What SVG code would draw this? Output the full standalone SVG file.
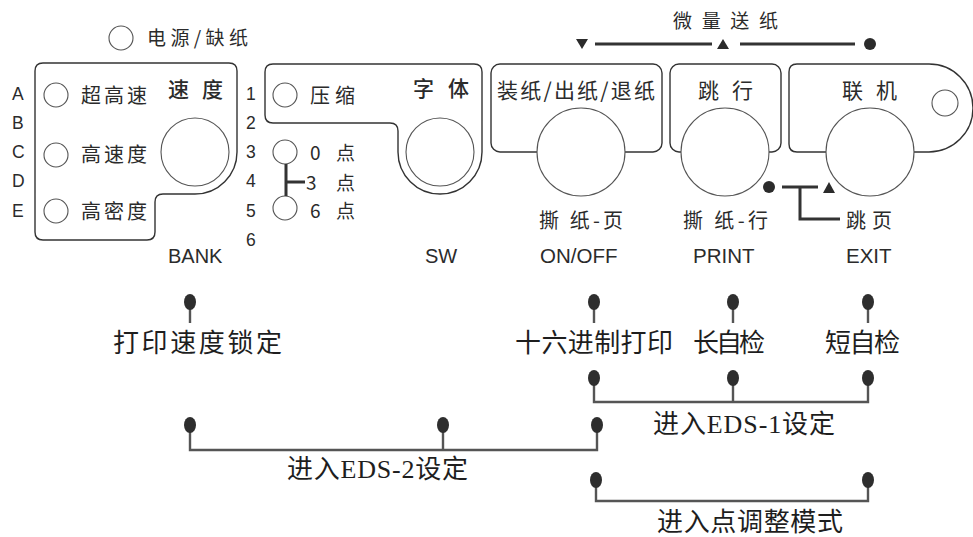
<svg xmlns="http://www.w3.org/2000/svg" width="973" height="537" viewBox="0 0 973 537">
<defs>
<style>
.panel{fill:#fff;stroke:#333;stroke-width:1.4}
.led{fill:#fff;stroke:#555;stroke-width:1.1}
.btn{fill:#fff;stroke:#555;stroke-width:1.1}
.cj{font-family:"Noto Sans CJK SC",sans-serif;fill:#2b2b2b}
.lat{font-family:"Liberation Sans",Arial,sans-serif;fill:#2b2b2b}
.big{font-family:"Liberation Serif","Noto Sans CJK SC",serif;fill:#1e1e1e;font-size:26px}
.thick{stroke:#333;stroke-width:3;fill:none}
.conn{stroke:#555;stroke-width:2.4;fill:none}
.pin{fill:#2e2e2e}
</style>
</defs>
<rect width="973" height="537" fill="#fff"/>

<g id="power">
<circle class="led" cx="121" cy="38" r="12"/>
<text class="cj" x="147" y="45" font-size="19" textLength="101">电源/缺纸</text>
</g>

<g id="speed-panel">
<path class="panel" d="M43,63 H229 Q237,63 237,71 V152 A42,42 0 0 1 195,194 H163 Q155,194 155,202 V232 Q155,240 147,240 H43 Q35,240 35,232 V71 Q35,63 43,63 Z"/>
<circle class="btn" cx="195" cy="152" r="34"/>
<circle class="led" cx="56" cy="95" r="12"/>
<circle class="led" cx="56" cy="155" r="12"/>
<circle class="led" cx="56" cy="211" r="12"/>
<text class="cj" x="81" y="103" font-size="20" textLength="66">超高速</text>
<text class="cj" x="81" y="162" font-size="20" textLength="66">高速度</text>
<text class="cj" x="81" y="219" font-size="20" textLength="66">高密度</text>
<text class="cj" x="168" y="97" font-size="21" font-weight="500" textLength="55">速 度</text>
</g>

<g id="letters" class="lat" font-size="17.5">
<text x="12" y="100">A</text>
<text x="12" y="129">B</text>
<text x="12" y="158">C</text>
<text x="12" y="187">D</text>
<text x="12" y="217">E</text>
</g>
<g id="numbers" class="lat" font-size="17.5">
<text x="246" y="100">1</text>
<text x="246" y="129">2</text>
<text x="246" y="158">3</text>
<text x="246" y="187">4</text>
<text x="246" y="217">5</text>
<text x="246" y="246">6</text>
</g>
<text class="lat" x="168" y="263" font-size="20">BANK</text>

<g id="font-panel">
<path class="panel" d="M273,64 H474 Q482,64 482,72 V152 A42,42 0 0 1 398,152 V131 Q398,123 390,123 H273 Q265,123 265,115 V72 Q265,64 273,64 Z"/>
<circle class="btn" cx="440" cy="152" r="34"/>
<circle class="led" cx="285" cy="95" r="12"/>
<text class="cj" x="310" y="103" font-size="20" textLength="45">压缩</text>
<text class="cj" x="413" y="96" font-size="21" font-weight="500" textLength="56">字 体</text>
</g>

<g id="dots-select">
<circle class="led" cx="285" cy="152" r="12"/>
<circle class="led" cx="285" cy="208" r="12"/>
<path class="thick" d="M286,164 V196 M286,182 H305"/>
<text class="cj" x="310" y="160" font-size="19" textLength="45">0 点</text>
<text class="cj" x="306" y="190" font-size="19" textLength="49">3 点</text>
<text class="cj" x="310" y="218" font-size="19" textLength="45">6 点</text>
</g>
<text class="lat" x="425" y="263" font-size="20">SW</text>

<g id="onoff">
<rect class="panel" x="491" y="64" width="171" height="88" rx="9"/>
<circle class="btn" cx="581" cy="152" r="44"/>
<text class="cj" x="497" y="98" font-size="21" textLength="158">装纸/出纸/退纸</text>
<text class="cj" x="539" y="228" font-size="20" textLength="84">撕 纸-页</text>
<text class="lat" x="540" y="263" font-size="20.5">ON/OFF</text>
</g>

<g id="print">
<rect class="panel" x="670" y="64" width="111" height="88" rx="9"/>
<circle class="btn" cx="725" cy="152" r="44"/>
<text class="cj" x="698" y="98" font-size="21" textLength="55">跳 行</text>
<text class="cj" x="683" y="228" font-size="20" textLength="85">撕 纸-行</text>
<text class="lat" x="693" y="263" font-size="20.5">PRINT</text>
</g>

<g id="online">
<path class="panel" d="M797,64 H929 A44,44 0 0 1 929,152 H797 Q789,152 789,144 V72 Q789,64 797,64 Z"/>
<circle class="led" cx="945" cy="103" r="13"/>
<circle class="btn" cx="870" cy="152" r="44"/>
<text class="cj" x="842" y="98" font-size="21" textLength="55">联 机</text>
<text class="cj" x="846" y="228" font-size="20" textLength="46">跳页</text>
<text class="lat" x="846" y="263" font-size="20.5">EXIT</text>
</g>

<g id="microfeed">
<text class="cj" x="673" y="28" font-size="19" textLength="105">微 量 送 纸</text>
<polygon fill="#2b2b2b" points="576,39 588,39 582,49"/>
<line class="thick" x1="595" y1="44" x2="712" y2="44" stroke-width="2.6"/>
<polygon fill="#2b2b2b" points="717,49 729,49 723,39"/>
<line class="thick" x1="740" y1="44" x2="855" y2="44" stroke-width="2.6"/>
<circle fill="#2b2b2b" cx="870" cy="44" r="6"/>
</g>

<g id="formfeed">
<circle fill="#2b2b2b" cx="769" cy="187" r="6"/>
<polygon fill="#2b2b2b" points="823,193 835,193 829,182"/>
<path class="thick" d="M782,187 H818 M800,187 V219 H840"/>
</g>

<g id="connectors">
<path class="conn" d="M190,302 V323 M594,302 V323 M733,302 V323 M868,302 V323"/>
<path class="conn" d="M594,378 V402 H868 V378 M733,378 V402"/>
<path class="conn" d="M190,425 V450 H597 V425 M443,425 V450"/>
<path class="conn" d="M596,480 V501 H868 V480"/>
</g>

<g id="pins">
<ellipse class="pin" cx="190" cy="302" rx="6" ry="8"/>
<ellipse class="pin" cx="594" cy="302" rx="6" ry="8"/>
<ellipse class="pin" cx="733" cy="302" rx="6" ry="8"/>
<ellipse class="pin" cx="868" cy="302" rx="6" ry="8"/>
<ellipse class="pin" cx="594" cy="378" rx="6" ry="8"/>
<ellipse class="pin" cx="733" cy="378" rx="6" ry="8"/>
<ellipse class="pin" cx="868" cy="378" rx="6" ry="8"/>
<ellipse class="pin" cx="190" cy="425" rx="6" ry="8"/>
<ellipse class="pin" cx="443" cy="425" rx="6" ry="8"/>
<ellipse class="pin" cx="597" cy="425" rx="6" ry="8"/>
<ellipse class="pin" cx="596" cy="480" rx="6" ry="8"/>
<ellipse class="pin" cx="868" cy="480" rx="6" ry="8"/>
</g>

<g id="functions">
<text class="big" x="113" y="352" font-size="27" textLength="169">打印速度锁定</text>
<text class="big" x="515" y="352" textLength="158">十六进制打印</text>
<text class="big" x="693" y="352" textLength="72">长自检</text>
<text class="big" x="825" y="352" textLength="75">短自检</text>
<text class="big" x="653" y="433" textLength="182">进入EDS-1设定</text>
<text class="big" x="287" y="478" textLength="181">进入EDS-2设定</text>
<text class="big" x="657" y="531" font-size="25" textLength="186">进入点调整模式</text>
</g>
</svg>
